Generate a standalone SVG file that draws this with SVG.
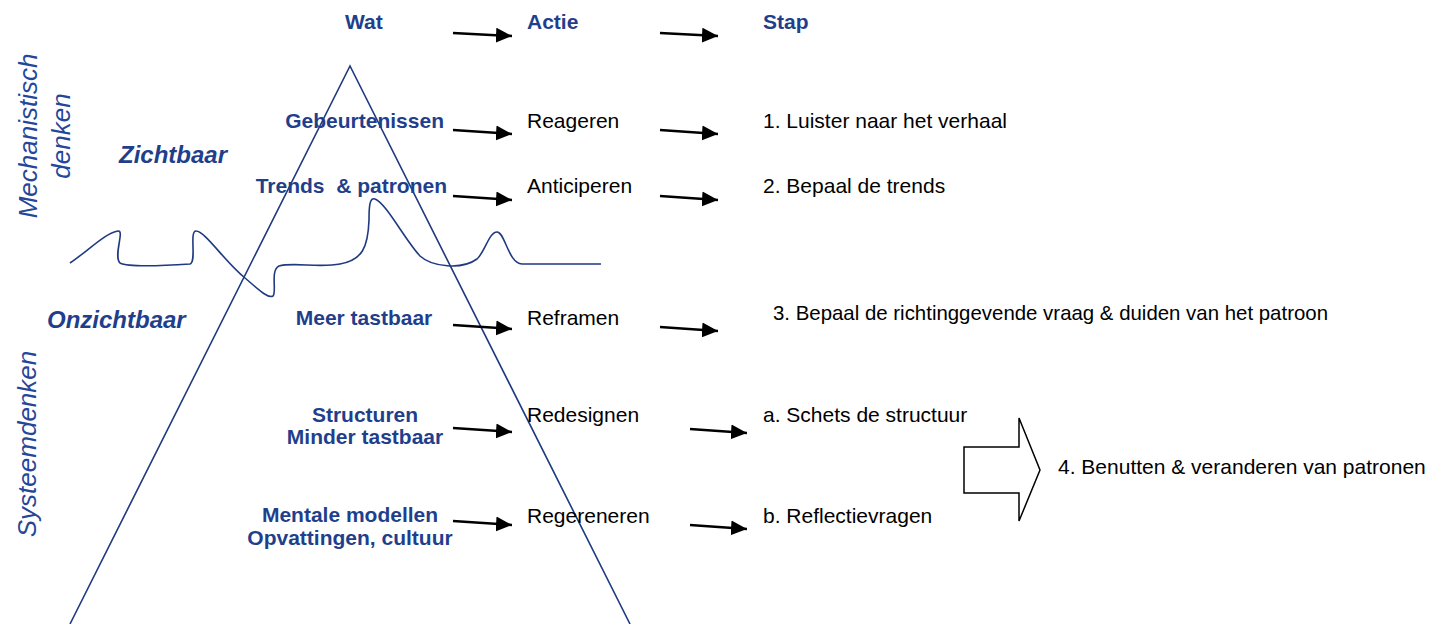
<svg xmlns="http://www.w3.org/2000/svg" width="1433" height="624" viewBox="0 0 1433 624">
<style>
.b{font-family:"Liberation Sans",Arial,sans-serif;font-weight:bold;font-size:21px;fill:#1f3f8c}
.bi{font-family:"Liberation Sans",Arial,sans-serif;font-weight:bold;font-style:italic;font-size:24px;fill:#1f3f8c}
.r{font-family:"Liberation Sans",Arial,sans-serif;font-size:21px;fill:#000}
.v{font-family:"Liberation Sans",Arial,sans-serif;font-style:italic;font-size:26px;fill:#24479a}
.ice{fill:none;stroke:#1f3a80;stroke-width:1.6}
.arr{stroke:#000;stroke-width:2.5;fill:none;marker-end:url(#ah)}
</style>
<defs>
<marker id="ah" markerUnits="userSpaceOnUse" markerWidth="17" markerHeight="16" refX="16" refY="7.5" orient="auto" viewBox="0 0 17 16">
<path d="M0,0 L16,7.5 L0,15 z" fill="#000"/>
</marker>
</defs>
<rect width="1433" height="624" fill="#fff"/>
<g id="iceberg">
<path class="ice" d="M70,624 L350,66 L630,624"/>
<path class="ice" d="M70,263 C88,251 105,233 118,231 C125,230 113,256 120,263 C130,268 175,265 190,264 C197,262 189,231 196,231 C205,231 225,262 245,278 C258,289 268,299 273,296 C277,292 270,270 279,266 C292,262 320,268 340,264 C362,260 368,248 369,220 C369,205 370,197 375,199 C386,203 405,240 420,256 C432,267 462,270 477,259 C485,252 489,232 497,232 C505,232 508,263 522,264 L601,264"/>
</g>
<g id="side-labels">
<text class="v" text-anchor="middle" transform="translate(37,136) rotate(-90)">Mechanistisch</text>
<text class="v" text-anchor="middle" transform="translate(70,136) rotate(-90)">denken</text>
<text class="v" text-anchor="middle" transform="translate(36,444) rotate(-90)">Systeemdenken</text>
<text class="bi" x="119" y="163">Zichtbaar</text>
<text class="bi" x="47" y="328">Onzichtbaar</text>
</g>
<g id="headers">
<text class="b" x="345" y="29">Wat</text>
<text class="b" x="527" y="29">Actie</text>
<text class="b" x="763" y="29">Stap</text>
</g>
<g id="row-gebeurtenissen">
<text class="b" x="444" y="128" text-anchor="end">Gebeurtenissen</text>
<text class="r" x="527" y="128">Reageren</text>
<text class="r" x="763" y="128">1. Luister naar het verhaal</text>
</g>
<g id="row-trends">
<text class="b" x="447" y="193" text-anchor="end" xml:space="preserve">Trends  &amp; patronen</text>
<text class="r" x="527" y="193">Anticiperen</text>
<text class="r" x="763" y="193">2. Bepaal de trends</text>
</g>
<g id="row-meer">
<text class="b" x="364" y="325" text-anchor="middle">Meer tastbaar</text>
<text class="r" x="527" y="325">Reframen</text>
<text class="r" x="773" y="320" textLength="555" lengthAdjust="spacingAndGlyphs">3. Bepaal de richtinggevende vraag &amp; duiden van het patroon</text>
</g>
<g id="row-structuren">
<text class="b" x="365" y="422" text-anchor="middle">Structuren</text>
<text class="b" x="365" y="444" text-anchor="middle">Minder tastbaar</text>
<text class="r" x="527" y="422">Redesignen</text>
<text class="r" x="763" y="422">a. Schets de structuur</text>
</g>
<g id="row-mentale">
<text class="b" x="350" y="522" text-anchor="middle">Mentale modellen</text>
<text class="b" x="350" y="545" text-anchor="middle">Opvattingen, cultuur</text>
<text class="r" x="527" y="523">Regereneren</text>
<text class="r" x="763" y="523">b. Reflectievragen</text>
</g>
<g id="block-arrow">
<polygon points="964,447 1019,447 1019,418 1040,470 1019,521 1019,493 964,493" fill="#fff" stroke="#000" stroke-width="1.5"/>
<text class="r" x="1058" y="474">4. Benutten &amp; veranderen van patronen</text>
</g>
<g id="connectors">
<line class="arr" x1="453" y1="33" x2="512" y2="36"/>
<line class="arr" x1="660" y1="33" x2="718" y2="36"/>
<line class="arr" x1="453" y1="130" x2="512" y2="134"/>
<line class="arr" x1="660" y1="130" x2="718" y2="134"/>
<line class="arr" x1="453" y1="196" x2="512" y2="200"/>
<line class="arr" x1="660" y1="196" x2="718" y2="200"/>
<line class="arr" x1="453" y1="325" x2="512" y2="329"/>
<line class="arr" x1="660" y1="327" x2="718" y2="331"/>
<line class="arr" x1="453" y1="428" x2="512" y2="432"/>
<line class="arr" x1="690" y1="429" x2="747" y2="433"/>
<line class="arr" x1="453" y1="521" x2="512" y2="525"/>
<line class="arr" x1="690" y1="525" x2="747" y2="529"/>
</g>
</svg>
